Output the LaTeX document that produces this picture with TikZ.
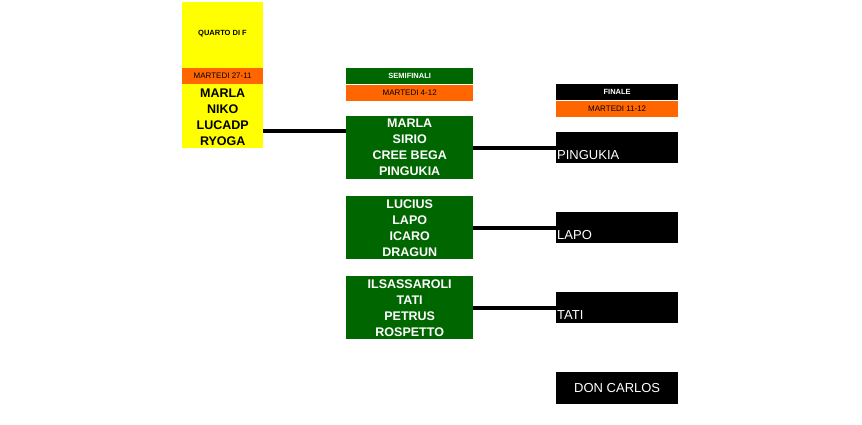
\documentclass[tikz,border=0pt]{standalone}
\usepackage{fontspec}
\setmainfont{Liberation Sans}
\usetikzlibrary{calc, positioning}

\definecolor{tabyellow}{HTML}{FFFF00}
\definecolor{taborange}{HTML}{FF6600}
\definecolor{tabgreen}{HTML}{006600}

\tikzset{
  band/.style={inner sep=0pt, minimum height=16pt, font=\fontsize{8}{9}\selectfont},
  headfont/.style={font=\fontsize{7.5}{9}\selectfont\bfseries},
  teambox/.style={fill=tabgreen, text=white, inner sep=0pt, minimum width=127pt,
    minimum height=63pt, align=center, font=\fontsize{12.5}{16}\selectfont\bfseries},
  finbox/.style={fill=black, inner sep=0pt, minimum width=122pt, minimum height=31pt},
  conn/.style={line width=4pt, black}
}

\begin{document}
\begin{tikzpicture}[x=1pt,y=-1pt]
\path[use as bounding box] (0,0) rectangle (862,424);

% Quarti
\node[fill=tabyellow, inner sep=0pt, minimum width=81pt, minimum height=146pt,
  anchor=north west] (quarto) at (182,2) {};
\node[headfont] (qtitle) at (222.5,34) {QUARTO DI F};
\node[band, fill=taborange, minimum width=81pt, anchor=north west] (qdate) at (182,68) {MARTEDI 27-11};
\node[align=center, inner sep=0pt, font=\fontsize{12.5}{16}\selectfont\bfseries,
  below=4pt of qdate] (qnames) {MARLA\\NIKO\\LUCADP\\RYOGA};

% Semifinali
\node[band, headfont, fill=tabgreen, text=white, minimum width=127pt,
  anchor=north west] (shead) at (346,68) {SEMIFINALI};
\node[band, fill=taborange, minimum width=127pt, below=0pt of shead] (sdate) {MARTEDI 4-12};
\node[teambox, anchor=north west] (sf1) at (346,116) {MARLA\\SIRIO\\CREE BEGA\\PINGUKIA};
\node[teambox, anchor=north west] (sf2) at (346,196) {LUCIUS\\LAPO\\ICARO\\DRAGUN};
\node[teambox, anchor=north west] (sf3) at (346,276) {ILSASSAROLI\\TATI\\PETRUS\\ROSPETTO};

% Finale
\node[band, headfont, fill=black, text=white, minimum width=122pt,
  anchor=north west] (fhead) at (556,84) {FINALE};
\node[band, fill=taborange, minimum width=122pt, below=0pt of fhead] (fdate) {MARTEDI 11-12};
\node[finbox, anchor=north west] (f1) at (556,132) {};
\node[finbox, anchor=north west] (f2) at (556,212) {};
\node[finbox, anchor=north west] (f3) at (556,292) {};
\node[finbox, anchor=north west, minimum height=32pt, text=white,
  font=\fontsize{13}{15}\selectfont] (f4) at (556,372) {DON CARLOS};

% Vincitori
\foreach \b/\t in {f1/PINGUKIA, f2/LAPO, f3/TATI}{
  \node[anchor=south west, inner sep=1pt, yshift=3pt, text=white,
    font=\fontsize{13}{15}\selectfont] at (\b.south west) {\t};
}

% Collegamenti
\draw[conn] (quarto.east |- 0,131) -- (sf1.west |- 0,131);
\draw[conn] (sf1.east) -- (f1.west);
\draw[conn] (sf2.east) -- (f2.west);
\draw[conn] (sf3.east) -- (f3.west);
\end{tikzpicture}
\end{document}
